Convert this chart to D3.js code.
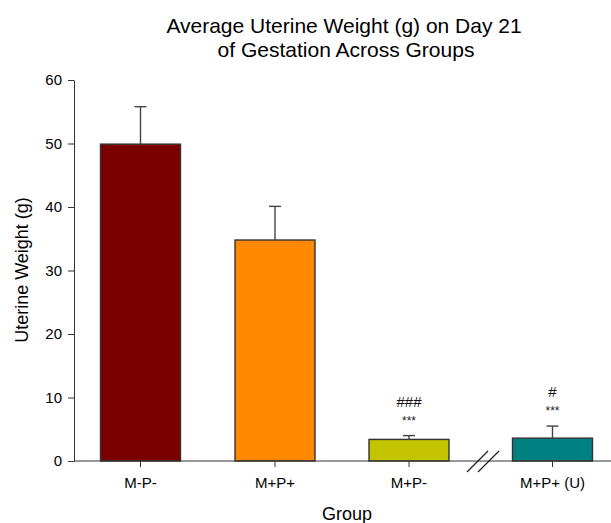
<!DOCTYPE html>
<html><head><meta charset="utf-8">
<script src="https://cdn.jsdelivr.net/npm/d3@7"></script>
<style>body{margin:0;background:#fff}svg{display:block}text{font-family:"Liberation Sans",Arial,sans-serif}</style>
</head><body>
<script>
const categories = ["M-P-", "M+P+", "M+P-", "M+P+ (U)"];
const means = [49.9, 34.8, 3.4, 3.6];
const errors = [5.9, 5.3, 0.6, 1.9];
const annotStars = ["", "", "***", "***"];
const annotHash = ["", "", "###", "#"];
const colors = ["#7a0000", "#ff8800", "#c3c300", "#008080"];
const yTicks = [0, 10, 20, 30, 40, 50, 60];

const W = 611, H = 523;
const svg = d3.select("body").append("svg").attr("width", W).attr("height", H);

const y = d3.scaleLinear().domain([0, 60]).range([461, 80]);
const x = d3.scaleOrdinal().domain(categories).range([140.5, 275, 409, 552.5]);
const bw = 80;

// title
svg.append("text").attr("x", 344).attr("y", 33).attr("text-anchor", "middle")
  .attr("font-size", 21).attr("fill", "#000").text("Average Uterine Weight (g) on Day 21");
svg.append("text").attr("x", 346).attr("y", 57).attr("text-anchor", "middle")
  .attr("font-size", 21).attr("fill", "#000").text("of Gestation Across Groups");

// bars
svg.selectAll("rect.bar").data(categories).enter().append("rect")
  .attr("x", d => x(d) - bw / 2)
  .attr("y", (d, i) => y(means[i]))
  .attr("width", bw)
  .attr("height", (d, i) => y(0) - y(means[i]))
  .attr("fill", (d, i) => colors[i])
  .attr("stroke", "#333").attr("stroke-width", 1.4);

// error bars
const eg = svg.append("g").attr("stroke", "#444").attr("stroke-width", 1.4);
categories.forEach((c, i) => {
  eg.append("line").attr("x1", x(c)).attr("x2", x(c)).attr("y1", y(means[i])).attr("y2", y(means[i] + errors[i]));
  eg.append("line").attr("x1", x(c) - 6).attr("x2", x(c) + 6).attr("y1", y(means[i] + errors[i])).attr("y2", y(means[i] + errors[i]));
});

// annotations
categories.forEach((c, i) => {
  if (annotStars[i]) svg.append("text").attr("x", x(c)).attr("y", y(means[i] + errors[i]) - 11)
    .attr("text-anchor", "middle").attr("font-size", 12).attr("fill", "#222").text(annotStars[i]);
  if (annotHash[i]) svg.append("text").attr("x", x(c)).attr("y", y(means[i] + errors[i]) - 29)
    .attr("text-anchor", "middle").attr("font-size", 15).attr("fill", "#111").text(annotHash[i]);
});

// y axis
const ya = svg.append("g").attr("transform", "translate(74,0)")
  .call(d3.axisLeft(y).tickValues(yTicks).tickSize(6).tickPadding(6).tickSizeOuter(0));
ya.select(".domain").attr("stroke", "#333");
ya.selectAll(".tick line").attr("stroke", "#333");
ya.selectAll(".tick text").attr("font-size", 15).attr("fill", "#000").attr("font-family", "Liberation Sans, Arial, sans-serif");

// x axis
const xa = svg.append("g");
xa.append("line").attr("x1", 74).attr("x2", 611).attr("y1", y(0)).attr("y2", y(0)).attr("stroke", "#333").attr("stroke-width", 1);
categories.forEach(c => {
  xa.append("line").attr("x1", x(c)).attr("x2", x(c)).attr("y1", y(0)).attr("y2", y(0) + 6).attr("stroke", "#333");
  xa.append("text").attr("x", x(c)).attr("y", 488).attr("text-anchor", "middle")
    .attr("font-size", 15).attr("fill", "#000").text(c);
});
// break marks
const bx = 478;
[0, 11].forEach(off => {
  xa.append("line").attr("x1", bx - 11 + off).attr("y1", y(0) + 11).attr("x2", bx + 10 + off).attr("y2", y(0) - 10)
    .attr("stroke", "#222").attr("stroke-width", 1.2);
});

// axis titles
svg.append("text").attr("x", 347).attr("y", 520).attr("text-anchor", "middle")
  .attr("font-size", 18).attr("fill", "#000").text("Group");
svg.append("text").attr("transform", "translate(28,270) rotate(-90)").attr("text-anchor", "middle")
  .attr("font-size", 18).attr("fill", "#000").text("Uterine Weight (g)");
</script>
</body></html>
